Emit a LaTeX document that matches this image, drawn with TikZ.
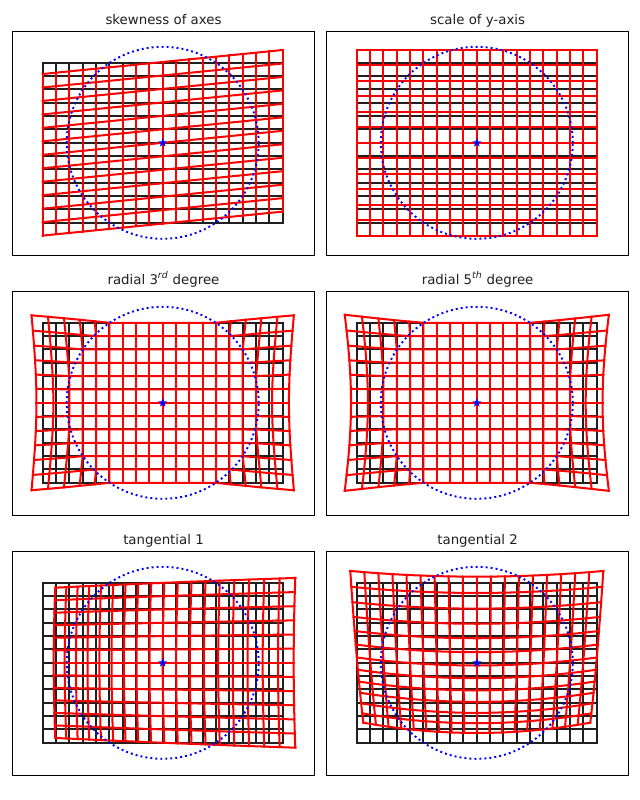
\documentclass[tikz,border=0pt]{standalone}
\usepackage{fontspec}
\setmainfont{DejaVu Sans}
\usetikzlibrary{shapes.geometric}

\tikzset{
  frame/.style={draw=black,line width=0.7pt},
  blackgrid/.style={draw=black!88,line width=1.45pt,line cap=rect},
  redgrid/.style={draw=red,line width=1.45pt,line cap=rect,line join=round},
  ring/.style={draw=blue,line width=1.4pt,dash pattern=on 1.4pt off 2.2pt},
  centre/.style={star,star points=5,star point ratio=2.5,fill=blue,inner sep=0pt,minimum size=6.8pt},
  paneltitle/.style={font=\fontsize{9.6}{11}\selectfont,text=black!88,anchor=base},
}

% one panel: grid centre (px), name, title, mapped x and y functions
\newcommand{\distpanel}[6]{%
  \node[paneltitle] (#3) at (#1+0.8,#2-118.8) {#4};
  \begin{scope}[shift={(#1,#2)},x=72pt,y=72pt]
    \draw[frame] (-1.504,-1.125) rectangle (1.52,1.111);
    \foreach \i in {0,...,18}
      \draw[blackgrid] ({-1.2+\i*2.4/18},-0.8) -- ++(0,1.6);
    \foreach \j in {0,...,12}
      \draw[blackgrid] (-1.2,{-0.8+\j*1.6/12}) -- ++(2.4,0);
    \foreach \j in {0,...,12}
      \draw[redgrid] plot[domain=-1.2:1.2,samples=19]
        ({#5(\x,-0.8+\j*1.6/12)},{#6(\x,-0.8+\j*1.6/12)});
    \foreach \i in {0,...,18}
      \draw[redgrid] plot[domain=-0.8:0.8,samples=13]
        ({#5(-1.2+\i*2.4/18,\x)},{#6(-1.2+\i*2.4/18,\x)});
    \draw[ring] (0,0) circle[radius=0.96];
    \node[centre] (#3c) at (0,0) {};
  \end{scope}}

\begin{document}
\begin{tikzpicture}[x=0.72pt,y=-0.72pt,
  declare function={
    skx(\a,\b)=\a; sky(\a,\b)=1.01*\b+0.1*\a;
    scx(\a,\b)=\a; scy(\a,\b)=1.16*\b;
    rdd(\a,\b)=max(veclen(\a,\b)-0.96,0);
    rth(\a,\b)=1+(0.24*rdd(\a,\b)+0.08*rdd(\a,\b)*rdd(\a,\b))/(veclen(\a,\b)+0.001);
    rtx(\a,\b)=\a*rth(\a,\b); rty(\a,\b)=\b*rth(\a,\b);
    rfi(\a,\b)=1+(0.18*rdd(\a,\b)+0.25*rdd(\a,\b)*rdd(\a,\b))/(veclen(\a,\b)+0.001);
    rfx(\a,\b)=\a*rfi(\a,\b); rfy(\a,\b)=\b*rfi(\a,\b);
    tax(\a,\b)=\a+0.0254*(3*\a*\a+\b*\b); tay(\a,\b)=\b+0.0508*\a*\b;
    tbx(\a,\b)=\a+0.068*\a*\b;
    tby(\a,\b)=\b-0.027+0.0556*(\a*\a+3*\b*\b)-(0.023+0.02*\a*\a)*\b;
  }]
\useasboundingbox (0,0) rectangle (640,800);
\distpanel{162.7}{142.8}{skew}{skewness of axes}{skx}{sky}
\distpanel{476.8}{142.8}{scale}{scale of y-axis}{scx}{scy}
\distpanel{162.7}{402.8}{radthree}{radial 3\textsuperscript{\itshape rd} degree}{rtx}{rty}
\distpanel{476.8}{402.8}{radfive}{radial 5\textsuperscript{\itshape th} degree}{rfx}{rfy}
\distpanel{162.7}{662.8}{tanone}{tangential 1}{tax}{tay}
\distpanel{476.8}{662.8}{tantwo}{tangential 2}{tbx}{tby}
\end{tikzpicture}
\end{document}
